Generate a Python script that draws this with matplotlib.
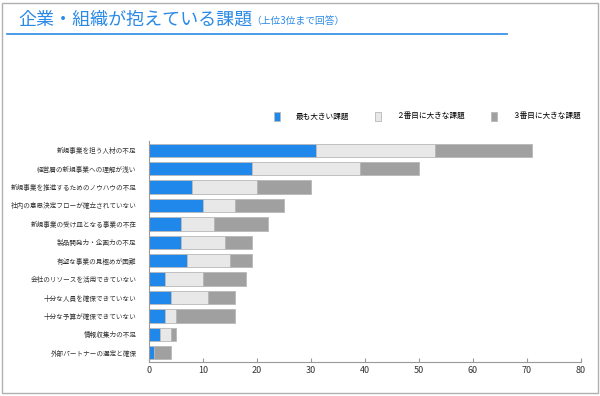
import numpy as np
import matplotlib.pyplot as plt
from matplotlib.patches import Rectangle
from matplotlib.lines import Line2D

plt.rcParams['font.family'] = ['Noto Sans CJK JP', 'DejaVu Sans']

# データ（上から順）
labels = ["新規事業を担う人材の不足", "経営層の新規事業への理解が浅い",
          "新規事業を推進するためのノウハウの不足", "社内の意思決定フローが確立されていない",
          "新規事業の受け皿となる事業の不在", "製品開発力・企画力の不足",
          "有望な事業の見極めが困難", "会社のリソースを活用できていない",
          "十分な人員を確保できていない", "十分な予算が確保できていない",
          "情報収集力の不足", "外部パートナーの選定と確保"]
first = [31, 19, 8, 10, 6, 6, 7, 3, 4, 3, 2, 1]
second = [22, 20, 12, 6, 6, 8, 8, 7, 7, 2, 2, 0]
third = [18, 11, 10, 9, 10, 5, 4, 8, 5, 11, 1, 3]
series_names = ["最も大きい課題", "２番目に大きな課題", "３番目に大きな課題"]
colors = ["#1f88ea", "#e8e8e8", "#a0a0a0"]

fig = plt.figure(figsize=(6, 3.96), dpi=100)

# 外枠
fig.patches.append(Rectangle((0.004, 0.008), 0.992, 0.985, transform=fig.transFigure,
                             fill=False, edgecolor="#b0b0b0", linewidth=1.0))

# タイトル
fig.text(0.031, 0.951, "企業・組織が抱えている課題", fontsize=13, color="#2a8ae6",
         ha="left", va="center")
fig.text(0.418, 0.946, "（上位3位まで回答）", fontsize=7, color="#2a8ae6",
         ha="left", va="center")
fig.lines.append(Line2D([0.012, 0.845], [0.914, 0.914], transform=fig.transFigure,
                        color="#2a8ae6", linewidth=1.2))

ax = fig.add_axes([0.2483, 0.0859, 0.72, 0.558])

y = np.arange(len(labels))
left = np.zeros(len(labels))
for vals, name, c in zip([first, second, third], series_names, colors):
    ax.barh(y, vals, left=left, height=0.72, color=c, edgecolor="#b8b8b8",
            linewidth=0.6, label=name)
    left = left + np.array(vals)

ax.set_ylim(len(labels) - 0.5, -0.5)
ax.set_xlim(0, 80)
ax.set_xticks(np.arange(0, 81, 10))
ax.set_yticks(y)
ax.set_yticklabels(labels, fontsize=4.75, color="#333333")
ax.tick_params(axis='y', length=0, pad=9)
ax.tick_params(axis='x', direction='in', length=3, color="#999999", labelsize=6.5,
               labelcolor="#333333", pad=3)
for s in ["top", "right"]:
    ax.spines[s].set_visible(False)
ax.spines["bottom"].set_color("#999999")
ax.spines["left"].set_color("#999999")

fig.legend(loc="center", bbox_to_anchor=(0.712, 0.705), ncol=3, frameon=False,
           fontsize=5.5, handlelength=0.8, handleheight=1.4, columnspacing=3.4,
           handletextpad=2.0)

fig.savefig("out.png", dpi=100)
